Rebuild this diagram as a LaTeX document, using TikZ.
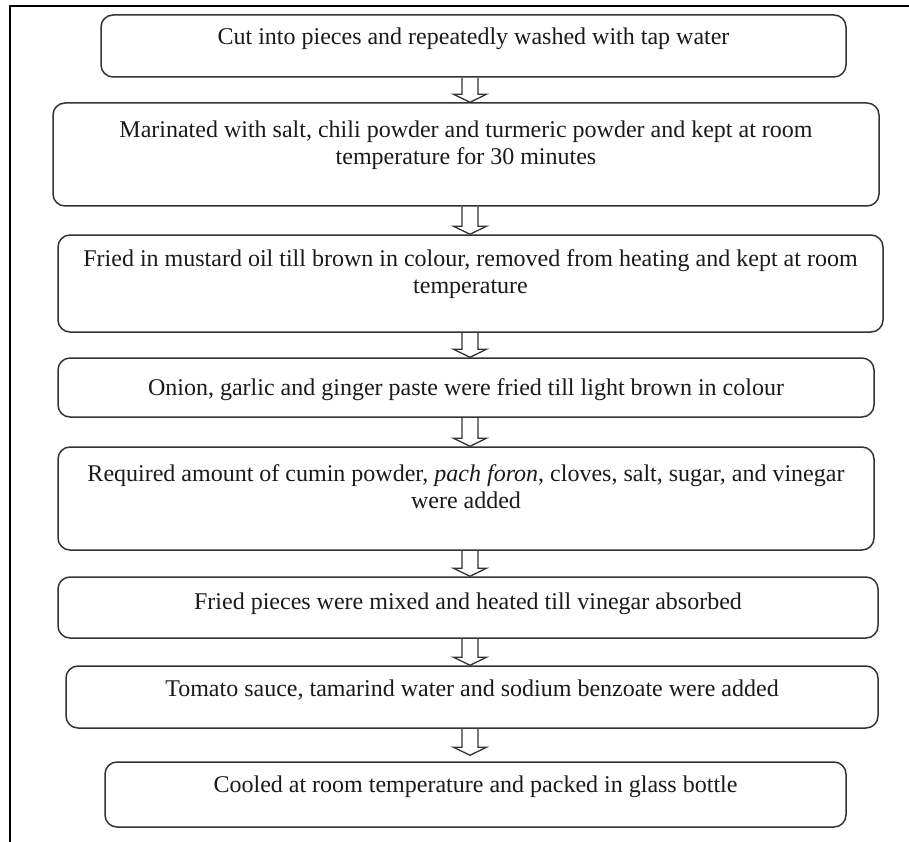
\documentclass[tikz,border=0pt]{standalone}
\usepackage{fontspec}
\setmainfont{Liberation Serif}
\usepackage{tikz}
\usetikzlibrary{
    backgrounds,
    calc
}
\definecolor{ink}   {HTML}{1A1A1A}
\definecolor{edge}  {HTML}{333333}

% top-aligned text block of a given box size
\newcommand{\steptext}[4][12pt]{%
    \parbox[c][#3][t]{#2}{\centering\vspace*{#1}\strut #4}}

\begin{document}
\begin{tikzpicture}[
    x=1pt, y=1pt,
    line cap=round, line join=round,
    %% --- semantic styles ---
    stepbox/.style     = {rectangle, draw=edge, line width=1.5pt,
                          rounded corners=12pt, inner sep=0pt,
                          text=ink, font=\fontsize{24}{27}\selectfont},
    hollowarrow/.style = {draw=edge, fill=white, line width=1.3pt,
                          line join=miter},
    frameline/.style   = {draw=black, line width=2pt, line cap=butt}
]
\useasboundingbox (0,0) rectangle (909,-842);

%% =====================================================
%% Outer frame (left and top only)
%% =====================================================
\draw[frameline] (10,-842) -- (10,-6) -- (909,-6);
\coordinate (AX) at (470,0);

%% =====================================================
%% Process steps
%% =====================================================
\node[stepbox] (S1) at (473.5, -46)
    {\steptext[11pt]{745pt}{62pt}{Cut into pieces and repeatedly washed with tap water}};
\node[stepbox] (S2) at (466, -154.5)
    {\steptext[16pt]{826pt}{103pt}{Marinated with salt, chili powder and turmeric powder and kept at room\\
     temperature for 30 minutes}};
\node[stepbox] (S3) at (470.5, -283.5)
    {\steptext[13pt]{825pt}{97pt}{Fried in mustard oil till brown in colour, removed from heating and kept at room\\
     temperature}};
\node[stepbox] (S4) at (466, -387.5)
    {\steptext[19pt]{816pt}{59pt}{Onion, garlic and ginger paste were fried till light brown in colour}};
\node[stepbox] (S5) at (466, -498.5)
    {\steptext[16pt]{816pt}{103pt}{Required amount of cumin powder, \textit{pach foron}, cloves, salt, sugar, and vinegar\\
     were added}};
\node[stepbox] (S6) at (468, -607.5)
    {\steptext[14pt]{820pt}{61pt}{Fried pieces were mixed and heated till vinegar absorbed}};
\node[stepbox] (S7) at (472, -697)
    {\steptext{812pt}{62pt}{Tomato sauce, tamarind water and sodium benzoate were added}};
\node[stepbox] (S8) at (475.5, -794.5)
    {\steptext{741pt}{65pt}{Cooled at room temperature and packed in glass bottle}};

%% =====================================================
%% Hollow block arrows between steps
%% =====================================================
\begin{scope}[on background layer]
\foreach \A/\B/\G in {S1/S2/0, S2/S3/0, S3/S4/0, S4/S5/0,
                      S5/S6/0, S6/S7/0, S7/S8/6}
    \draw[hollowarrow]
        let \p1 = (\A.south -| AX),
            \p2 = ($(\B.north -| AX) + (0,\G)$) in
        (\x1-8pt,\y1) -- (\x1-8pt,\y2+8pt) -- (\x1-16.5pt,\y2+8pt)
        -- (\x2,\y2) -- (\x1+16.5pt,\y2+8pt) -- (\x1+8pt,\y2+8pt)
        -- (\x1+8pt,\y1);
\end{scope}

\end{tikzpicture}
\end{document}
